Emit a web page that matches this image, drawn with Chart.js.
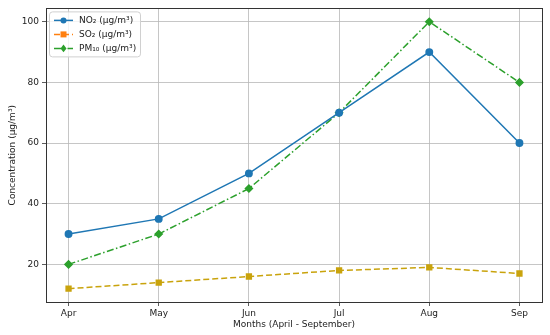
<!DOCTYPE html>
<html>
<head>
<meta charset="utf-8">
<script src="https://cdn.jsdelivr.net/npm/chart.js@4"></script>
<style>
  html, body { margin: 0; padding: 0; background: #fff; }
  #wrap { width: 550px; height: 335px; }
</style>
</head>
<body>
<div id="wrap"><canvas id="myChart"></canvas></div>
<script>
// data
const months = ['Apr', 'May', 'Jun', 'Jul', 'Aug', 'Sep'];
const no2 = [30, 35, 50, 70, 90, 60];
const so2 = [12, 14, 16, 18, 19, 17];
const pm10 = [20, 30, 45, 70, 100, 80];
const yTicks = [20, 40, 60, 80, 100];
const seriesNames = ['NO\u2082 (\u00b5g/m\u00b3)', 'SO\u2082 (\u00b5g/m\u00b3)', 'PM\u2081\u2080 (\u00b5g/m\u00b3)'];

const FONT = 'DejaVu Sans';

function toPoints(arr) {
    return arr.map((v, i) => ({ x: i, y: v }));
}

// frame around the plot + matplotlib style legend inside the axes
const framePlugin = {
    id: 'frame',
    afterDraw(chart) {
        const { ctx, chartArea: a } = chart;
        ctx.save();
        ctx.strokeStyle = '#333';
        ctx.lineWidth = 1;
        ctx.strokeRect(Math.round(a.left) + 0.5, Math.round(a.top) + 0.5,
            Math.round(a.right - a.left), Math.round(a.bottom - a.top));

        // legend box
        const bx = a.left + 3, by = a.top + 3, bw = 91, bh = 45;
        ctx.fillStyle = 'rgba(255,255,255,0.8)';
        ctx.strokeStyle = '#d0d0d0';
        ctx.beginPath();
        ctx.roundRect(bx + 0.5, by + 0.5, bw, bh, 3);
        ctx.fill();
        ctx.stroke();
        ctx.font = '9px "' + FONT + '"';
        ctx.textBaseline = 'middle';
        chart.data.datasets.forEach((ds, i) => {
            const y = by + 9 + i * 14;
            const col = ds.legendColor || ds.borderColor;
            ctx.strokeStyle = col;
            ctx.lineWidth = 1.5;
            ctx.setLineDash(ds.borderDash || []);
            ctx.beginPath();
            ctx.moveTo(bx + 5, y);
            ctx.lineTo(bx + 24, y);
            ctx.stroke();
            ctx.setLineDash([]);
            ctx.fillStyle = col;
            ctx.beginPath();
            const cx = bx + 14.5;
            if (ds.pointStyle === 'circle') {
                ctx.arc(cx, y, 3, 0, Math.PI * 2);
            } else if (ds.pointStyle === 'rect') {
                ctx.rect(cx - 3, y - 3, 6, 6);
            } else {
                ctx.moveTo(cx, y - 3.8);
                ctx.lineTo(cx + 3, y);
                ctx.lineTo(cx, y + 3.8);
                ctx.lineTo(cx - 3, y);
                ctx.closePath();
            }
            ctx.fill();
            ctx.fillStyle = '#222';
            ctx.fillText(ds.label, bx + 30, y + 0.5);
        });
        ctx.restore();
    }
};

const ctx = document.getElementById('myChart');
const chart = new Chart(ctx, {
    type: 'line',
    data: {
        datasets: [
            {
                label: seriesNames[0],
                data: toPoints(no2),
                borderColor: '#1f77b4',
                backgroundColor: '#1f77b4',
                borderWidth: 1.5,
                pointStyle: 'circle',
                pointRadius: 3.2,
                tension: 0
            },
            {
                label: seriesNames[1],
                data: toPoints(so2),
                borderColor: '#c9a30c',
                backgroundColor: '#c9a30c',
                legendColor: '#ff7f0e',
                borderWidth: 1.5,
                borderDash: [6, 3],
                pointStyle: 'rect',
                pointRadius: 3.4,
                tension: 0
            },
            {
                label: seriesNames[2],
                data: toPoints(pm10),
                borderColor: '#2ca02c',
                backgroundColor: '#2ca02c',
                borderWidth: 1.5,
                borderDash: [7, 2.5, 1.5, 2.5],
                pointStyle: 'rectRot',
                pointRadius: 3.5,
                tension: 0
            }
        ]
    },
    options: {
        responsive: true,
        maintainAspectRatio: false,
        animation: false,
        layout: { padding: { top: 6, right: 8, left: 0, bottom: 0 } },
        plugins: {
            legend: { display: false },
            tooltip: { enabled: false }
        },
        scales: {
            x: {
                type: 'linear',
                min: -0.25,
                max: 5.25,
                afterBuildTicks(scale) {
                    scale.ticks = months.map((m, i) => ({ value: i }));
                },
                afterFit(scale) { scale.height = 33; },
                ticks: {
                    callback: (v) => months[v],
                    color: '#222',
                    font: { family: FONT, size: 9 },
                    padding: 2,
                    maxRotation: 0
                },
                grid: {
                    color: '#b8b8b8',
                    lineWidth: 0.8,
                    tickColor: '#333',
                    tickLength: 4
                },
                border: { display: false },
                title: {
                    display: true,
                    text: 'Months (April - September)',
                    color: '#222',
                    font: { family: FONT, size: 9 },
                    padding: { top: 1, bottom: 5 }
                }
            },
            y: {
                min: 7.6,
                max: 104.4,
                afterBuildTicks(scale) {
                    scale.ticks = yTicks.map(v => ({ value: v }));
                },
                afterFit(scale) { scale.width = 46; },
                ticks: {
                    color: '#222',
                    font: { family: FONT, size: 9 },
                    padding: 3
                },
                grid: {
                    color: '#b8b8b8',
                    lineWidth: 0.8,
                    tickColor: '#333',
                    tickLength: 4
                },
                border: { display: false },
                title: {
                    display: true,
                    text: 'Concentration (\u00b5g/m\u00b3)',
                    color: '#222',
                    font: { family: FONT, size: 9 },
                    padding: { top: 7, bottom: 2 }
                }
            }
        }
    },
    plugins: [framePlugin]
});
</script>
</body>
</html>
